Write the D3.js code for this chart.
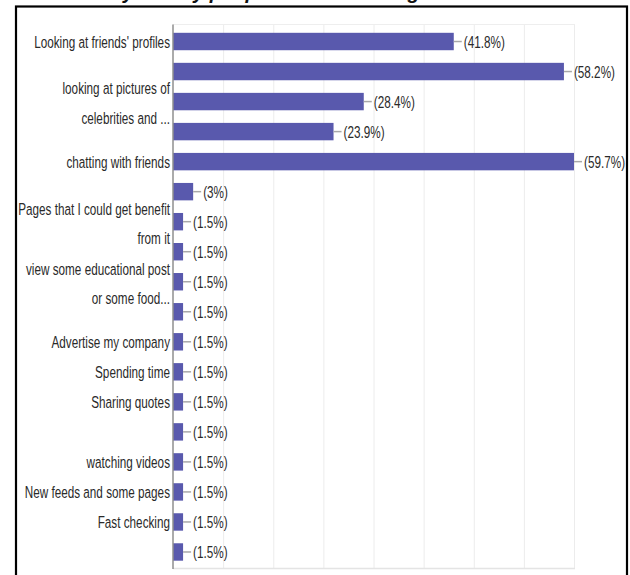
<!DOCTYPE html>
<html>
<head>
<meta charset="utf-8">
<script src="https://cdn.jsdelivr.net/npm/d3@7"></script>
<style>
  html, body { margin: 0; padding: 0; background: #fff; }
  svg { display: block; }
</style>
</head>
<body>
<svg id="chart" width="630" height="575"></svg>
<script>
// Survey answers: share of respondents per activity (multiple choice)
const titleText = "Activity mostly people do when using Facebook";

// Row labels; empty strings are rows whose label the chart leaves out
const categories = [
  "Looking at friends' profiles",
  "",
  "looking at pictures of\ncelebrities and ...",
  "",
  "chatting with friends",
  "",
  "Pages that I could get benefit\nfrom it",
  "",
  "view some educational post\nor some food...",
  "",
  "Advertise my company",
  "Spending time",
  "Sharing quotes",
  "",
  "watching videos",
  "New feeds and some pages",
  "Fast checking",
  ""
];

// Percent of respondents for each row
const percents = [41.8, 58.2, 28.4, 23.9, 59.7, 3, 1.5, 1.5, 1.5, 1.5, 1.5, 1.5, 1.5, 1.5, 1.5, 1.5, 1.5, 1.5];

// Axis extent (40 of 67 respondents) and number of grid intervals
const axisMax = 59.7;
const gridIntervals = 8;

const svg = d3.select("#chart");

const plot = { left: 173, right: 574, top: 26.5, bottom: 567 };
const barColor = "#5959ad";
const textColor = "#2a2a2a";
const fontSize = 17;
const squeeze = 0.69;   // narrow label lettering
const fontFamily = "'Liberation Sans', Arial, sans-serif";

// Title, mostly above the visible frame
svg.append("text")
  .attr("x", 62)
  .attr("y", -1)
  .attr("font-family", fontFamily)
  .attr("font-weight", "bold")
  .attr("font-style", "italic")
  .attr("font-size", 20)
  .attr("fill", "#111")
  .text(titleText);

// Outer frame
svg.append("rect")
  .attr("x", 16).attr("y", 6.5)
  .attr("width", 611).attr("height", 620)
  .attr("fill", "#fff")
  .attr("stroke", "#000")
  .attr("stroke-width", 2.2);

const x = d3.scaleLinear().domain([0, axisMax]).range([plot.left, plot.right]);
const y = d3.scaleBand()
  .domain(d3.range(categories.length))
  .range([plot.top, plot.bottom])
  .paddingInner(0.42)
  .paddingOuter(0.21);

// Grid lines
const gridVals = d3.range(gridIntervals + 1).map(i => axisMax * i / gridIntervals);
svg.append("g")
  .selectAll("line")
  .data(gridVals.slice(1))
  .join("line")
  .attr("x1", d => x(d) + 0.5).attr("x2", d => x(d) + 0.5)
  .attr("y1", plot.top - 2).attr("y2", plot.bottom + 1)
  .attr("stroke", "#ececec")
  .attr("stroke-width", 1);

// Plot top and bottom edges
svg.append("line")
  .attr("x1", plot.left).attr("x2", plot.right + 1)
  .attr("y1", plot.top - 2).attr("y2", plot.top - 2)
  .attr("stroke", "#eeeeee");
svg.append("line")
  .attr("x1", plot.left).attr("x2", plot.right + 1)
  .attr("y1", plot.bottom + 1.5).attr("y2", plot.bottom + 1.5)
  .attr("stroke", "#e4e4e4").attr("stroke-width", 1.5);

// Bars
svg.append("g")
  .selectAll("rect")
  .data(percents)
  .join("rect")
  .attr("x", x(0))
  .attr("y", (d, i) => y(i))
  .attr("width", d => x(d) - x(0))
  .attr("height", y.bandwidth())
  .attr("fill", barColor);

// Leader lines and value labels
const valueG = svg.append("g");
percents.forEach((d, i) => {
  const cy = y(i) + y.bandwidth() / 2;
  const x0 = x(d);
  valueG.append("line")
    .attr("x1", x0).attr("x2", x0 + 8)
    .attr("y1", cy).attr("y2", cy)
    .attr("stroke", "#a8a8a8").attr("stroke-width", 1.5);
  valueG.append("text")
    .attr("transform", `translate(${x0 + 10},${cy}) scale(${squeeze},1)`)
    .attr("dy", "0.36em")
    .attr("font-family", fontFamily)
    .attr("font-size", fontSize)
    .attr("fill", textColor)
    .text(`(${d}%)`);
});

// Category axis
const yAxis = svg.append("g");
yAxis.append("line")
  .attr("x1", plot.left).attr("x2", plot.left)
  .attr("y1", plot.top - 2).attr("y2", plot.bottom + 2)
  .attr("stroke", "#8f8f8f").attr("stroke-width", 1.5);

const lineGap = 29.5;
categories.forEach((label, i) => {
  if (!label) return;
  const lines = label.split("\n");
  const cy = y(i) + y.bandwidth() / 2 + (lines.length > 1 ? 1.5 : 0);
  lines.forEach((ln, k) => {
    const ly = cy + (k - (lines.length - 1) / 2) * lineGap;
    yAxis.append("text")
      .attr("transform", `translate(${plot.left - 3},${ly}) scale(${squeeze},1)`)
      .attr("dy", "0.36em")
      .attr("text-anchor", "end")
      .attr("font-family", fontFamily)
      .attr("font-size", fontSize)
      .attr("fill", textColor)
      .text(ln);
  });
});
</script>
</body>
</html>
